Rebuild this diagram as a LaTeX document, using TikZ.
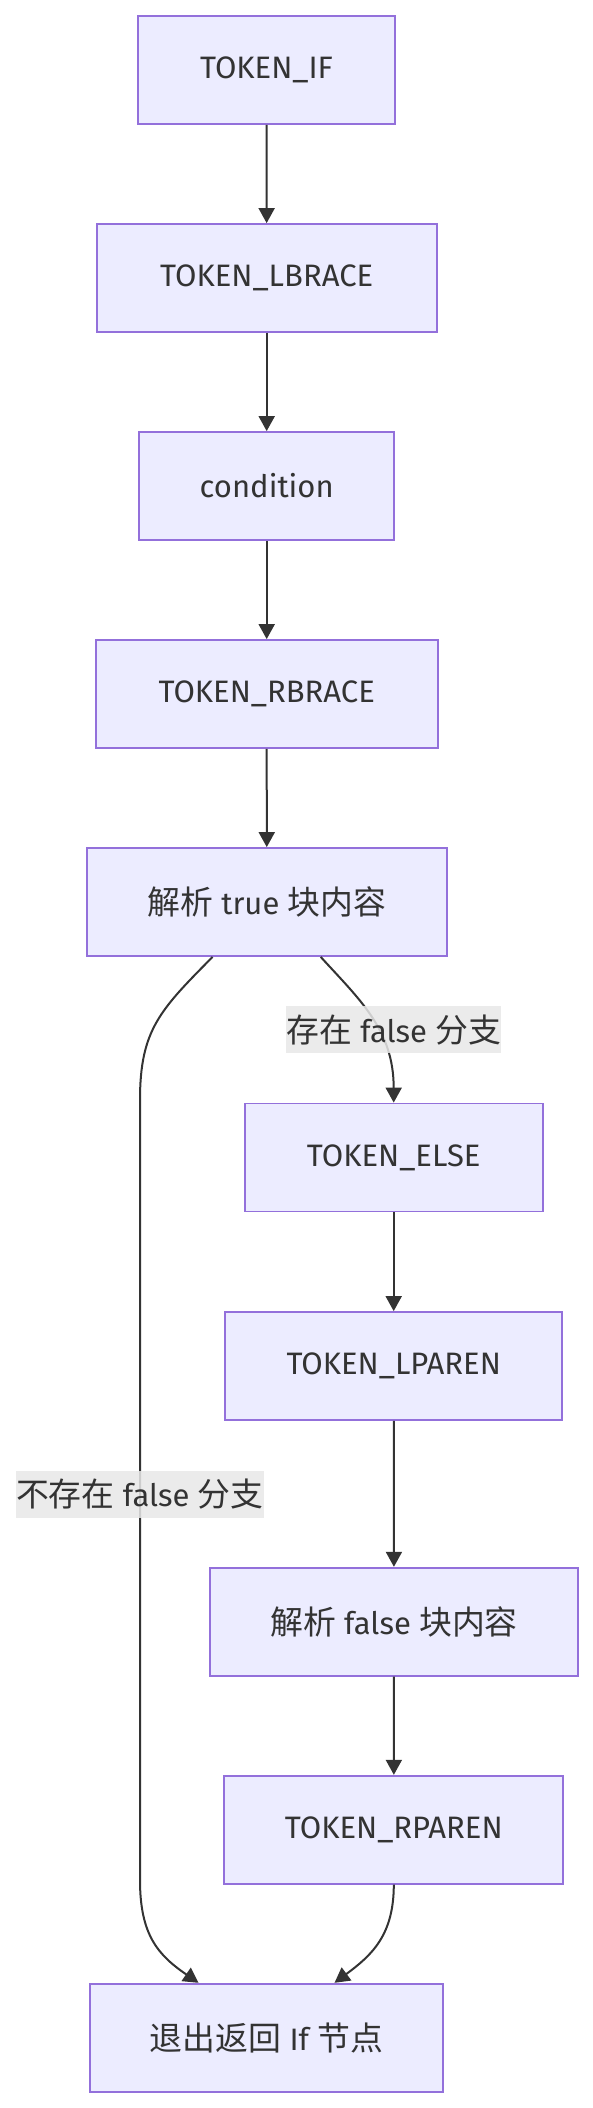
\documentclass[tikz,border=0pt]{standalone}
\usepackage{fontspec}
\setmainfont{Fira Sans}
\newfontfamily\cjk[Scale=1.06]{Noto Sans CJK SC}
\usetikzlibrary{arrows.meta,calc}
\definecolor{nodefill}{HTML}{ECECFF}
\definecolor{nodeborder}{HTML}{9370DB}
\definecolor{edgecol}{HTML}{333333}
\definecolor{labelbg}{HTML}{E8E8E8}
\tikzset{
  box/.style={draw=nodeborder, fill=nodefill, line width=1.8pt, minimum height=108pt, inner sep=0pt, text=edgecol, font=\fontsize{31}{36}\selectfont},
  edge/.style={draw=edgecol, line width=2pt, -{Triangle[length=15pt,width=16pt]}},
  elabel/.style={fill=labelbg, fill opacity=0.85, text opacity=1, text=edgecol, inner sep=0pt, minimum height=47pt, font=\fontsize{31}{36}\selectfont}
}
\begin{document}
\begin{tikzpicture}[x=1pt,y=-1pt]
\useasboundingbox (0,0) rectangle (593,2108);
\node[box, minimum width=257pt] (tif) at (266.5,70) {TOKEN\_IF};
\node[box, minimum width=340pt] (lbrace) at (266.7,278) {TOKEN\_LBRACE};
\node[box, minimum width=255pt] (cond) at (266.7,486) {condition};
\node[box, minimum width=342pt] (rbrace) at (266.7,694) {TOKEN\_RBRACE};
\node[box, minimum width=360pt] (tblock) at (266.8,902) {{\cjk 解析} true {\cjk 块内容}};
\node[box, minimum width=298pt] (telse) at (393.7,1157.5) {TOKEN\_ELSE};
\node[box, minimum width=337pt] (lparen) at (393.7,1366) {TOKEN\_LPAREN};
\node[box, minimum width=368pt] (fblock) at (394,1621.7) {{\cjk 解析} false {\cjk 块内容}};
\node[box, minimum width=339pt] (rparen) at (393.8,1829.7) {TOKEN\_RPAREN};
\node[box, minimum width=353pt] (exit) at (266.5,2037.7) {{\cjk 退出返回} If {\cjk 节点}};

\draw[edge] (tif) -- (lbrace);
\draw[edge] (lbrace) -- (cond);
\draw[edge] (cond) -- (rbrace);
\draw[edge] (rbrace) -- (tblock);
\draw[edge] ([xshift=-54.2pt]tblock.south) .. controls (160,1010) and (140,1030) .. (140,1100) -- (140,1880) .. controls (140,1935) and (158,1955) .. ([xshift=-68pt]exit.north);
\draw[edge] ([xshift=53.9pt]tblock.south) .. controls (360,1000) and (393.7,1030) .. (telse.north);
\draw[edge] (telse) -- (lparen);
\draw[edge] (lparen) -- (fblock);
\draw[edge] (fblock) -- (rparen);
\draw[edge] (rparen.south) .. controls (393.8,1935) and (372,1955) .. ([xshift=68pt]exit.north);

\node[elabel, minimum width=215.5pt] (lyes) at (393.7,1029.7) {{\cjk 存在} false {\cjk 分支}};
\node[elabel, minimum width=247.7pt] (lno) at (139.8,1494) {{\cjk 不存在} false {\cjk 分支}};
\end{tikzpicture}
\end{document}
